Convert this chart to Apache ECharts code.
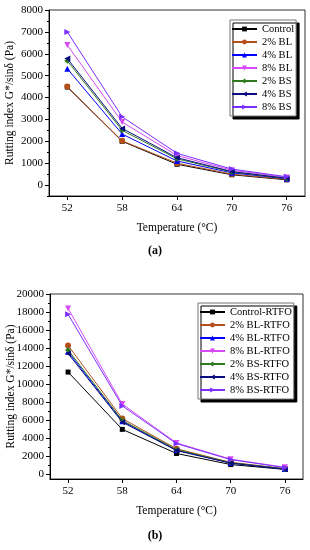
<!DOCTYPE html>
<html>
<head>
<meta charset="utf-8">
<script src="https://cdn.jsdelivr.net/npm/echarts@6/dist/echarts.min.js"></script>
<style>
html,body{margin:0;padding:0;background:#fff;}
#c{width:310px;height:550px;}
</style>
</head>
<body>
<div id="c"></div>
<script>
// ---- data ----
const temps = [52, 58, 64, 70, 76];
const namesA = ['Control', '2% BL', '4% BL', '8% BL', '2% BS', '4% BS', '8% BS'];
const namesB = ['Control-RTFO', '2% BL-RTFO', '4% BL-RTFO', '8% BL-RTFO', '2% BS-RTFO', '4% BS-RTFO', '8% BS-RTFO'];

// (a) unaged
const controlA = [4480, 2000, 950, 470, 240];
const bl2A     = [4500, 2020, 1000, 500, 260];
const bl4A     = [5320, 2330, 1100, 560, 290];
const bl8A     = [6400, 2880, 1350, 680, 350];
const bs2A     = [5680, 2500, 1200, 600, 300];
const bs4A     = [5780, 2590, 1250, 620, 310];
const bs8A     = [7000, 3120, 1450, 730, 380];

// (b) RTFO aged
const controlB = [11350, 5000, 2330, 1100, 560];
const bl2B     = [14300, 6200, 2850, 1350, 650];
const bl4B     = [13600, 5900, 2700, 1280, 600];
const bl8B     = [18400, 7800, 3500, 1700, 800];
const bs2B     = [13800, 6000, 2750, 1300, 620];
const bs4B     = [13400, 5800, 2650, 1250, 590];
const bs8B     = [17750, 7600, 3420, 1650, 760];

// tick labels
const xTicks = [52, 58, 64, 70, 76];
const yTicksA = [0, 1000, 2000, 3000, 4000, 5000, 6000, 7000, 8000];
const yMinorA = [-500, 500, 1500, 2500, 3500, 4500, 5500, 6500, 7500];
const yTicksB = [0, 2000, 4000, 6000, 8000, 10000, 12000, 14000, 16000, 18000, 20000];
const yMinorB = [1000, 3000, 5000, 7000, 9000, 11000, 13000, 15000, 17000, 19000];

const seriesA = [controlA, bl2A, bl4A, bl8A, bs2A, bs4A, bs8A];
const seriesB = [controlB, bl2B, bl4B, bl8B, bs2B, bs4B, bs8B];

// ---- styles ----
const colors = ['#000000', '#b4501c', '#0000ff', '#d64af5', '#2f7a1f', '#0b0b80', '#7a2eff'];
const symbols = ['rect', 'circle', 'triangle', 'triangle', 'diamond', 'triangle', 'triangle'];
const rots = [0, 0, 0, 180, 0, 90, -90];
const FONT = 'Liberation Serif';

function mkSeries(names, vals, idx) {
  return names.map((n, i) => ({
    name: n,
    type: 'line',
    xAxisIndex: idx,
    yAxisIndex: idx,
    data: temps.map((t, k) => [t, vals[i][k]]),
    symbol: symbols[i],
    symbolRotate: rots[i],
    symbolSize: i === 0 ? 5 : 6,
    showSymbol: true,
    color: colors[i],
    lineStyle: { width: 1, color: colors[i] },
    itemStyle: { color: colors[i] },
    emphasis: { disabled: true },
    z: 2 + i
  }));
}

const plain = v => String(v);

function xAxis(gi) {
  return {
    type: 'value', gridIndex: gi, min: 50, max: 78,
    name: 'Temperature (°C)', nameLocation: 'middle', nameGap: 26, nameMoveOverlap: false,
    nameTextStyle: { fontFamily: FONT, fontSize: 11.5, color: '#000' },
    axisLine: { show: true, onZero: false, lineStyle: { color: '#000', width: 1 } },
    axisTick: { show: true, length: 4, customValues: xTicks, lineStyle: { color: '#000' } },
    axisLabel: { customValues: xTicks, formatter: plain, margin: 7, fontFamily: FONT, fontSize: 11, color: '#000' },
    splitLine: { show: false }
  };
}
function yAxis(gi, max, ticks) {
  return {
    type: 'value', gridIndex: gi, min: -500, max: max,
    name: 'Rutting index G*/sinδ (Pa)', nameLocation: 'middle', nameRotate: 90, nameGap: 33, nameMoveOverlap: false,
    nameTextStyle: { fontFamily: FONT, fontSize: 11.5, color: '#000' },
    axisLine: { show: true, onZero: false, lineStyle: { color: '#000', width: 1 } },
    axisTick: { show: true, length: 4, customValues: ticks, lineStyle: { color: '#000' } },
    axisLabel: { customValues: ticks, formatter: plain, margin: 6, fontFamily: FONT, fontSize: 11, color: '#000' },
    splitLine: { show: false }
  };
}
function yMinor(gi, max, ticks) {
  return {
    type: 'value', gridIndex: gi, min: -500, max: max, position: 'left',
    axisLine: { show: false },
    axisTick: { show: true, length: 2, customValues: ticks, lineStyle: { color: '#000' } },
    axisLabel: { show: false },
    splitLine: { show: false }
  };
}
function legend(names, left, top) {
  return {
    data: names, orient: 'vertical', left: left, top: top,
    itemWidth: 25, itemHeight: 6, itemGap: 1,
    padding: [3, 2, 3, 1],
    backgroundColor: '#fff', borderColor: '#777', borderWidth: 1,
    shadowColor: '#000', shadowOffsetX: 3, shadowOffsetY: 3, shadowBlur: 0.01,
    textStyle: { fontFamily: FONT, fontSize: 10.5, color: '#000', lineHeight: 12 },
    selectedMode: false
  };
}

const chart = echarts.init(document.getElementById('c'), null, { renderer: 'canvas' });
chart.setOption({
  animation: false,
  backgroundColor: '#fff',
  grid: [
    { left: 49, top: 10, width: 256, height: 186, outerBoundsMode: 'none', containLabel: false, show: true, borderColor: '#333', borderWidth: 1, backgroundColor: 'transparent' },
    { left: 50, top: 294, width: 253, height: 185, outerBoundsMode: 'none', containLabel: false, show: true, borderColor: '#333', borderWidth: 1, backgroundColor: 'transparent' }
  ],
  xAxis: [xAxis(0), xAxis(1)],
  yAxis: [yAxis(0, 8000, yTicksA), yAxis(1, 20000, yTicksB), yMinor(0, 8000, yMinorA), yMinor(1, 20000, yMinorB)],
  legend: [legend(namesA, 230, 20), legend(namesB, 198, 303)],
  graphic: [
    { type: 'text', left: 'center', top: 245, style: { text: '(a)', font: 'bold 12px "Liberation Serif"', fill: '#000' } },
    { type: 'text', left: 'center', top: 530, style: { text: '(b)', font: 'bold 12px "Liberation Serif"', fill: '#000' } }
  ],
  series: mkSeries(namesA, seriesA, 0).concat(mkSeries(namesB, seriesB, 1))
});
</script>
</body>
</html>
